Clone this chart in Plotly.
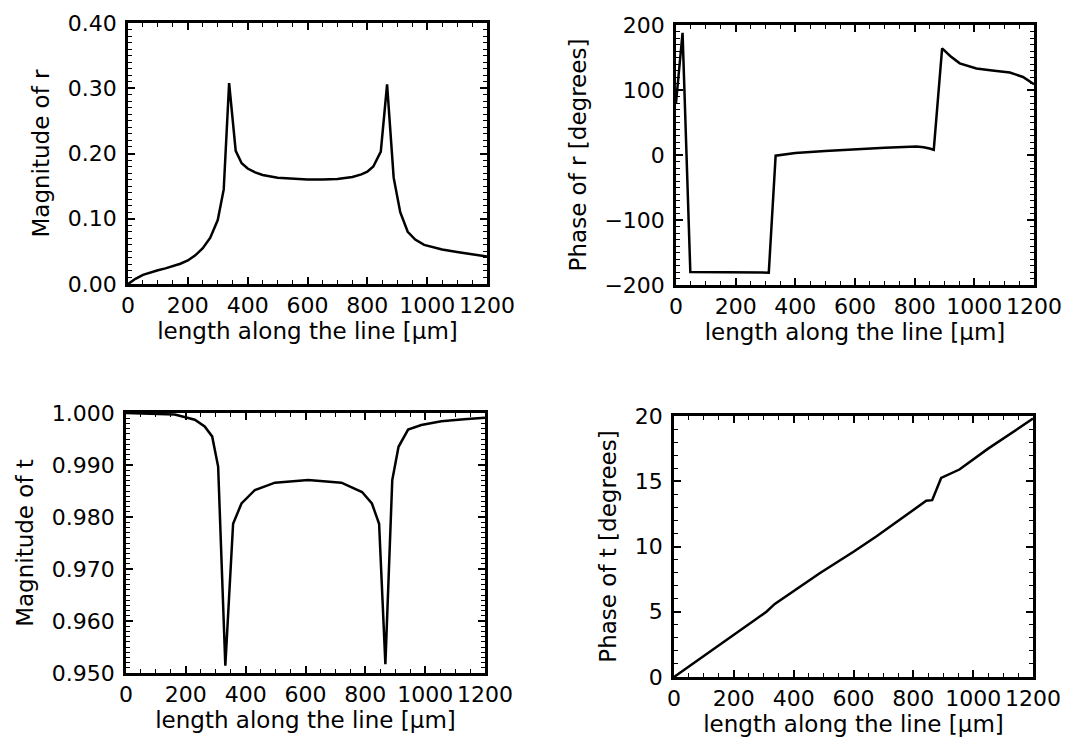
import plotly.graph_objects as go

# ---------------- data ----------------
x_mag_r = [0, 25, 50, 75, 100, 125, 150, 175, 200, 225, 250, 275, 300, 320, 338, 360, 380,
           400, 425, 450, 500, 550, 600, 650, 700, 750, 780, 800, 820, 845, 866, 888, 910,
           935, 960, 990, 1020, 1050, 1100, 1150, 1200]
mag_r = [0.0, 0.008, 0.014, 0.018, 0.021, 0.024, 0.027, 0.031, 0.036, 0.044, 0.055, 0.071,
         0.098, 0.145, 0.308, 0.204, 0.185, 0.177, 0.171, 0.167, 0.163, 0.161, 0.160, 0.160,
         0.161, 0.164, 0.168, 0.172, 0.180, 0.203, 0.306, 0.163, 0.110, 0.080, 0.068, 0.060,
         0.056, 0.053, 0.049, 0.046, 0.042]

x_phase_r = [0, 22, 48, 100, 200, 311, 334, 400, 500, 600, 700, 806, 830, 850, 864, 892,
             920, 951, 1007, 1060, 1119, 1163, 1200]
phase_r = [80, 188, -180, -180, -180, -181, -1, 3, 6, 9, 11, 13, 12, 10, 8, 164,
           152, 141, 133, 130, 127, 120, 109]

x_mag_t = [0, 100, 163, 230, 263, 288, 308, 332, 358, 386, 431, 498, 609, 720, 789, 822,
           846, 867, 890, 911, 943, 987, 1054, 1130, 1200]
mag_t = [1.0, 0.9999, 0.9997, 0.9987, 0.9974, 0.9955, 0.9897, 0.9514, 0.9787, 0.9826,
         0.9852, 0.9866, 0.9871, 0.9866, 0.9848, 0.9826, 0.9787, 0.9517, 0.9871, 0.9935,
         0.9968, 0.9977, 0.9984, 0.9988, 0.9991]

x_phase_t = [0, 150, 309, 337, 487, 600, 676, 843, 863, 893, 954, 1050, 1200]
phase_t = [0.0, 2.45, 5.0, 5.6, 7.95, 9.6, 10.77, 13.5, 13.55, 15.25, 15.9, 17.5, 19.8]

x_ticks = [0, 200, 400, 600, 800, 1000, 1200]
x_title = "length along the line [µm]"

FONT = "DejaVu Sans"

fig = go.Figure()

panels = [
    (x_mag_r, mag_r, "x", "y"),
    (x_phase_r, phase_r, "x2", "y2"),
    (x_mag_t, mag_t, "x3", "y3"),
    (x_phase_t, phase_t, "x4", "y4"),
]
for xs, ys, xa, ya in panels:
    fig.add_trace(go.Scatter(x=xs, y=ys, mode="lines", xaxis=xa, yaxis=ya,
                             line=dict(color="black", width=2.5), showlegend=False,
                             hoverinfo="skip"))


def xax(domain, anchor):
    return dict(domain=domain, anchor=anchor, range=[0, 1200], tickvals=x_ticks,
                ticks="inside", ticklen=7, tickwidth=1.5, tickcolor="black",
                minor=dict(dtick=50, ticks="inside", ticklen=4, tickwidth=1.2,
                           tickcolor="black", tick0=0),
                showline=True, linecolor="black", linewidth=2.5, mirror="allticks",
                showgrid=False, zeroline=False, automargin=False,
                tickfont=dict(family=FONT, size=22, color="black"),
                ticklabelstandoff=0,
                title=dict(text=x_title, standoff=4,
                           font=dict(family=FONT, size=23, color="black")))


def yax(domain, anchor, rng, dtick, minor, fmt, title):
    return dict(domain=domain, anchor=anchor, range=rng, dtick=dtick, tick0=rng[0],
                tickformat=fmt,
                ticks="inside", ticklen=7, tickwidth=1.5, tickcolor="black",
                minor=dict(dtick=minor, ticks="inside", ticklen=4, tickwidth=1.2,
                           tickcolor="black"),
                showline=True, linecolor="black", linewidth=2.5, mirror="allticks",
                showgrid=False, zeroline=False, automargin=False,
                tickfont=dict(family=FONT, size=22, color="black"),
                ticklabelstandoff=4,
                title=dict(text=title, standoff=12,
                           font=dict(family=FONT, size=23, color="black")))


fig.update_layout(
    width=1075, height=740,
    margin=dict(l=0, r=0, t=0, b=0),
    paper_bgcolor="white", plot_bgcolor="white",
    xaxis=xax([120 / 1075, 479 / 1075], "y"),
    yaxis=yax([1 - 276 / 740, 1 - 15 / 740], "x", [0, 0.4], 0.1, 0.01, ".2f", "Magnitude of r"),
    xaxis2=xax([668 / 1075, 1026 / 1075], "y2"),
    yaxis2=yax([1 - 277 / 740, 1 - 17 / 740], "x2", [-200, 200], 100, 10, "d",
               "Phase of r [degrees]"),
    xaxis3=xax([118 / 1075, 477 / 1075], "y3"),
    yaxis3=yax([1 - 665 / 740, 1 - 405 / 740], "x3", [0.95, 1.0], 0.01, 0.001, ".3f",
               "Magnitude of t"),
    xaxis4=xax([666 / 1075, 1025 / 1075], "y4"),
    yaxis4=yax([1 - 669 / 740, 1 - 408 / 740], "x4", [0, 20], 5, 1, "d",
               "Phase of t [degrees]"),
)

fig.write_html("out.html")
